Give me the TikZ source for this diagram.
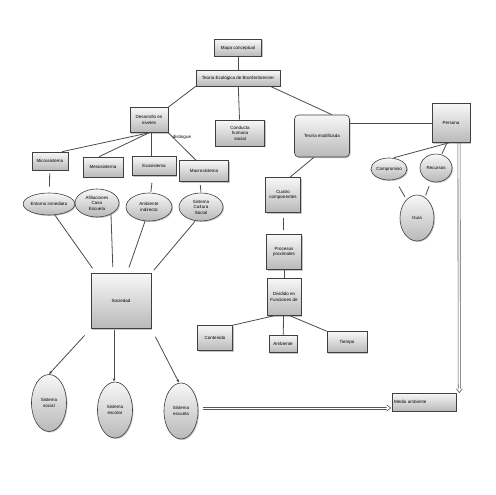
\documentclass[tikz,border=0pt]{standalone}
\usepackage{fontspec}
\setmainfont{Liberation Sans}
\usetikzlibrary{shadows,arrows.meta,shapes.geometric,calc}
\tikzset{
  base/.style={draw=black!75, line width=0.6pt, top color=gray!6, bottom color=gray!55,
    drop shadow={shadow xshift=1pt, shadow yshift=-1pt, opacity=0.45},
    inner sep=0pt, align=center, font=\fontsize{4.5}{5.5}\selectfont},
  bx/.style={base, rectangle},
  rbx/.style={base, rectangle, rounded corners=4pt},
  el/.style={base, ellipse},
  ln/.style={draw=black!70, line width=0.8pt},
  arr/.style={ln, -{Latex[length=3pt,width=3pt]}},
  rail/.style={draw=black!65, line width=0.6pt},
  tip/.style={draw=black!65, line width=0.6pt, fill=white, line join=miter},
}
\begin{document}
\begin{tikzpicture}[x=1pt,y=-1pt]
\useasboundingbox[fill=white] (0,0) rectangle (495,495);
% top
\node[bx, minimum width=47, minimum height=17] (mapa) at (238,48) {Mapa conceptual};
\node[bx, minimum width=84, minimum height=16] (teoria) at (238,78) {Teoría Ecológica de Bronfenbrenner};
\node[bx, minimum width=38, minimum height=25] (desarrollo) at (149,120) {Desarrollo en\\niveles};
\node[bx, minimum width=49, minimum height=26] (conducta) at (240,133) {Conducta\\humana\\social};
\node[font=\fontsize{4.5}{5.5}\selectfont] (dist) at (182,137) {distingue};
\node[rbx, minimum width=55, minimum height=42] (modif) at (322,136) {Teoría modificada};
\node[bx, minimum width=38, minimum height=39] (persona) at (451,123) {Persona};
% levels
\node[bx, minimum width=36, minimum height=18] (micro) at (50,161) {Microsistema};
\node[bx, minimum width=40, minimum height=20] (meso) at (103,167) {Mesosistema};
\node[bx, minimum width=44, minimum height=19] (exo) at (154,166) {Exosistema};
\node[bx, minimum width=49, minimum height=21] (macro) at (204,171) {Macrosistema};
\node[el, minimum width=46, minimum height=22] (entorno) at (49,204) {Entorno inmediato};
\node[el, minimum width=44, minimum height=28] (afil) at (97,203) {Afiliaciones\\Casa\\Escuela};
\node[el, minimum width=46, minimum height=28] (ambind) at (149,207) {Ambiente\\indirecto};
\node[el, minimum width=44, minimum height=28] (cult) at (201,207) {Sistema\\Cultura\\Social};
% society
\node[bx, minimum width=60, minimum height=55] (soc) at (121,301) {Sociedad};
\node[el, minimum width=35, minimum height=57] (ssocial) at (49,403) {Sistema\\social};
\node[el, minimum width=35, minimum height=56] (sescolar) at (115,410) {Sistema\\escolar};
\node[el, minimum width=34, minimum height=56] (sescuela) at (181,411) {Sistema\\escuela};
% middle column
\node[bx, minimum width=35, minimum height=35] (cuatro) at (283,195) {Cuatro\\componentes};
\node[bx, minimum width=35, minimum height=35] (procesos) at (284,252) {Procesos\\proximales};
\node[bx, minimum width=34, minimum height=37] (divid) at (284,297) {Dividido en\\Funciones de};
\node[bx, minimum width=35, minimum height=25] (contenido) at (215,338) {Contenido};
\node[bx, minimum width=28, minimum height=17] (ambiente) at (283,344) {Ambiente};
\node[bx, minimum width=40, minimum height=21] (tiempo) at (347,342) {Tiempo};
% person side
\node[el, minimum width=36, minimum height=22] (compr) at (389,169) {Compromiso};
\node[el, minimum width=32, minimum height=28] (recur) at (436,168) {Recursos};
\node[el, minimum width=34, minimum height=46] (guia) at (417,218) {Guía};
\node[bx, minimum width=64, minimum height=18, align=left, text width=60] (medio) at (424,402) {Medio ambiente};
% connectors
\draw[ln] (mapa) -- (teoria);
\draw[ln] (teoria.south west) -- (desarrollo.north east);
\draw[ln] (teoria) -- (conducta);
\draw[ln] ([xshift=-10pt]teoria.south east) -- ([xshift=10pt]modif.north);
\draw[ln] (modif.east |- persona) -- (persona.west);
\draw[ln] ([xshift=-8pt]modif.south) -- ([xshift=7pt]cuatro.north);
\draw[ln] (desarrollo.south) -- ([xshift=12pt]micro.north);
\draw[ln] (desarrollo.south) -- ([xshift=-4pt]meso.north);
\draw[ln] ([xshift=2pt]desarrollo.south) -- ([xshift=-3pt]exo.north);
\draw[ln] (desarrollo.south east) -- ([xshift=-8pt]macro.north);
\draw[ln, shorten <=3pt, shorten >=6pt] (micro) -- (entorno);
\draw[ln, shorten <=7pt, shorten >=1pt] (exo) -- (ambind);
\draw[ln, shorten <=3pt, shorten >=1pt] ([xshift=-4pt]macro.south) -- (cult.north);
\draw[ln, shorten >=6pt] ([xshift=6pt]entorno.south) -- ([xshift=-25pt]soc.north);
\draw[ln, shorten >=6pt] ([xshift=14pt,yshift=3pt]afil.south) -- ([xshift=-8pt]soc.north);
\draw[ln, shorten >=6pt] ([xshift=-4pt]ambind.south) -- ([xshift=6pt]soc.north);
\draw[ln, shorten >=4pt] ([xshift=-6pt]cult.south) -- (soc.north east);
\draw[arr, shorten <=9pt] (soc.south west) -- (ssocial.north);
\draw[arr, shorten <=1pt] ([xshift=-7pt]soc.south) -- ([xshift=-1pt]sescolar.north);
\draw[arr, shorten <=9pt] (soc.south east) -- ([xshift=-2pt]sescuela.north);
\draw[ln, shorten <=5pt, shorten >=4pt] (cuatro) -- (procesos);
\draw[ln] (procesos) -- (divid);
\draw[ln] ([xshift=-10pt]divid.south) -- (contenido.north east);
\draw[ln] (divid) -- (ambiente);
\draw[ln] ([xshift=6pt]divid.south) -- (tiempo.north west);
\draw[ln] ([xshift=-2pt]persona.south) -- ([xshift=5pt]compr.north);
\draw[ln] ([xshift=-4pt]persona.south) -- ([xshift=6pt]recur.north);
\draw[ln, shorten <=8pt, shorten >=3pt] (compr) -- (guia);
\draw[ln, shorten <=5pt, shorten >=2pt] (recur) -- (guia);
% double arrows (two rails and an open head)
\coordinate (hs) at ($(sescuela.east)+(5,-3)$);
\coordinate (he) at ($(medio.west)+(-1,6)$);
\draw[rail] ($(hs)+(0,-1.1)$) -- ($(he)+(-3,-1.1)$);
\draw[rail] ($(hs)+(0,1.1)$) -- ($(he)+(-3,1.1)$);
\draw[tip] ($(he)+(-4,-3)$) -- (he) -- ($(he)+(-4,3)$);
\coordinate (vs) at ($(persona.south)+(8,0)$);
\coordinate (ve) at ($(medio.north east)+(3,0)$);
\draw[rail] ($(vs)+(-1.1,0)$) -- ($(ve)+(-1.1,-3)$);
\draw[rail] ($(vs)+(1.1,0)$) -- ($(ve)+(1.1,-3)$);
\draw[tip] ($(ve)+(-3,-4)$) -- (ve) -- ($(ve)+(3,-4)$);
\end{tikzpicture}
\end{document}
